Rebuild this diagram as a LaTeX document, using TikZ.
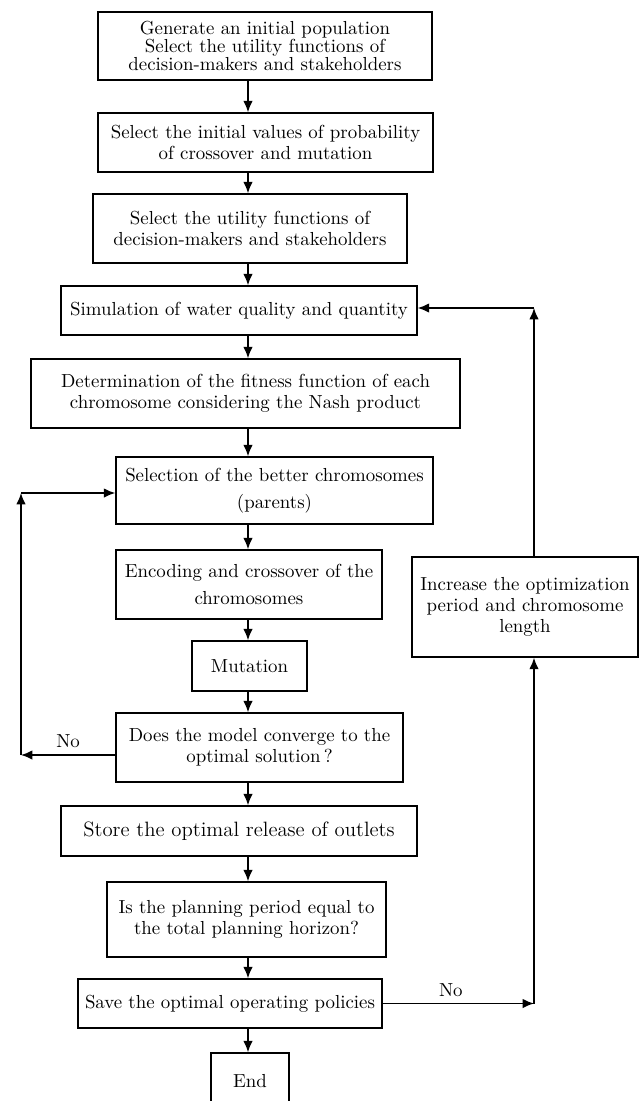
\documentclass[tikz,border=0pt]{standalone}
\usepackage{tikz}
\usetikzlibrary{arrows.meta}
\tikzset{
  block/.style={
    rectangle,
    draw,
    draw=black,
    line width=0.8pt,
    inner sep=0pt,
    align=center,
    execute at begin node=\setlength{\baselineskip}{11pt}
  },
  dims/.style 2 args={minimum width=#1*0.53pt, minimum height=#2*0.53pt}
}
\tikzstyle{arrow} = [->, > = {Latex[length=6pt, width=5pt]}, line width=0.8pt]

\begin{document}
\begin{tikzpicture}[x=0.53pt, y=-0.53pt]
    \useasboundingbox (0,0) rectangle (640,1101);
    \node[block, dims={334}{68}, execute at begin node=\setlength{\baselineskip}{9.5pt}] (gen) at (265,46) {Generate an initial population\\Select the utility functions of\\decision-makers and stakeholders};
    \node[block, dims={335}{59}] (prob) at (265.5,142.5) {Select the initial values of probability\\of crossover and mutation};
    \node[block, dims={314}{69}] (util) at (250,228.5) {Select the utility functions of\\decision-makers and stakeholders};
    \node[block, dims={356}{49}] (sim) at (239,310.5) {Simulation of water quality and quantity};
    \node[block, dims={429}{69}] (fit) at (245.5,393.5) {Determination of the fitness function of each\\chromosome considering the Nash product};
    \node[block, dims={317}{67}, execute at begin node=\setlength{\baselineskip}{14pt}] (sel) at (274.5,490.5) {Selection of the better chromosomes\\(parents)};
    \node[block, dims={266}{69}, execute at begin node=\setlength{\baselineskip}{14pt}] (enc) at (249,584.5) {Encoding and crossover of the\\chromosomes};
    \node[block, dims={115}{50}] (mut) at (249.5,666) {Mutation};
    \node[block, dims={287}{69}] (conv) at (259.5,747.5) {Does the model converge to the\\optimal solution\,?};
    \node[block, dims={356}{50}, font=\fontsize{11}{13}\selectfont] (store) at (239,831) {Store the optimal release of outlets};
    \node[block, dims={279}{75}] (plan) at (246.5,919.5) {Is the planning period equal to\\the total planning horizon?};
    \node[block, dims={304}{49}] (save) at (230,1003.5) {Save the optimal operating policies};
    \node[block, dims={78}{56}] (end) at (250,1081) {End};
    \node[block, dims={226}{100}] (inc) at (525,607) {Increase the optimization\\period and chromosome\\length};

    \coordinate (axis) at (248,0);
    \coordinate (rbot) at (534,1003.5);
    \coordinate (rtop) at (534,308);
    \coordinate (lbot) at (21,755);
    \coordinate (ltop) at (21,493);

    % main column
    \draw[arrow] (gen.south -| axis) -- (prob.north -| axis);
    \draw[arrow] (prob.south -| axis) -- (util.north -| axis);
    \draw[arrow] (util.south -| axis) -- (sim.north -| axis);
    \draw[arrow] (sim.south -| axis) -- (fit.north -| axis);
    \draw[arrow] (fit.south -| axis) -- (sel.north -| axis);
    \draw[arrow] (sel.south -| axis) -- (enc.north -| axis);
    \draw[arrow] (enc.south -| axis) -- (mut.north -| axis);
    \draw[arrow] (mut.south -| axis) -- (conv.north -| axis);
    \draw[arrow] (conv.south -| axis) -- (store.north -| axis);
    \draw[arrow] (store.south -| axis) -- (plan.north -| axis);
    \draw[arrow] (plan.south -| axis) -- (save.north -| axis);
    \draw[arrow] (save.south -| axis) -- (end.north -| axis);

    % loop back to selection
    \draw[arrow] (conv.west |- lbot) -- node [above, pos=0.5] {No} (lbot);
    \draw[arrow] (lbot) -- (ltop);
    \draw[arrow] (ltop) -- (sel.west |- ltop);

    % loop back to simulation
    \draw[arrow] (save.east) -- node [above, pos=0.45] {No} (rbot);
    \draw[arrow] (rbot) -- (inc.south -| rbot);
    \draw[arrow] (inc.north -| rbot) -- (rtop);
    \draw[arrow] (rtop) -- (sim.east |- rtop);
\end{tikzpicture}
\end{document}
